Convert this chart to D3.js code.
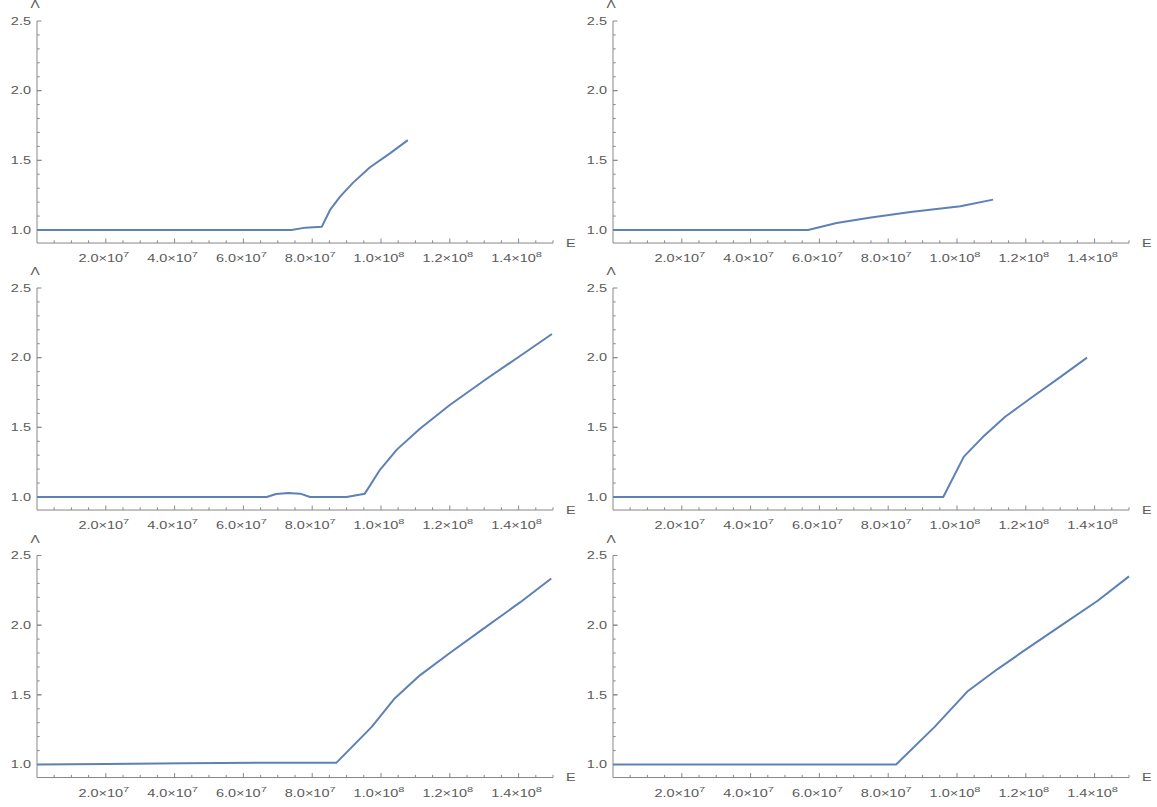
<!DOCTYPE html>
<html>
<head>
<meta charset="utf-8">
<script src="https://cdn.jsdelivr.net/npm/d3@7"></script>
<style>
  body { margin: 0; background: #fff; }
  #svg-container { width: 1157px; height: 807px; }
  .tick-label { font-family: "Liberation Sans", Arial, sans-serif; fill: #5a5a5a; }
</style>
</head>
<body>
<div id="svg-container"></div>
<script>
////////////////////////////////////////////////////////////////////
////////////////////////////  Data  ////////////////////////////////
// E values and Λ values for the six panels
const e1 = [0, 7.4e7, 7.8e7, 8.28e7, 8.52e7, 8.81e7, 9.19e7, 9.68e7, 1.026e8, 1.078e8];
const l1 = [1.0, 1.0, 1.017, 1.024, 1.144, 1.24, 1.34, 1.45, 1.55, 1.645];

const e2 = [0, 5.67e7, 6.5e7, 7.5e7, 8.65e7, 1.01e8, 1.105e8];
const l2 = [1.0, 1.0, 1.05, 1.09, 1.13, 1.17, 1.218];

const e3 = [0, 6.68e7, 6.95e7, 7.3e7, 7.65e7, 7.94e7, 9.0e7, 9.53e7, 9.97e7, 1.046e8, 1.113e8, 1.2e8, 1.302e8, 1.4e8, 1.497e8];
const l3 = [1.0, 1.0, 1.022, 1.028, 1.024, 1.0, 1.0, 1.024, 1.195, 1.34, 1.49, 1.66, 1.84, 2.005, 2.17];

const e4 = [0, 9.6e7, 1.02e8, 1.075e8, 1.14e8, 1.226e8, 1.3e8, 1.378e8];
const l4 = [1.0, 1.0, 1.29, 1.43, 1.576, 1.73, 1.86, 2.0];

const e5 = [0, 2e7, 4.3e7, 6.5e7, 8.7e7, 9.73e7, 1.038e8, 1.113e8, 1.2e8, 1.297e8, 1.405e8, 1.495e8];
const l5 = [1.0, 1.003, 1.009, 1.012, 1.012, 1.27, 1.47, 1.64, 1.80, 1.973, 2.165, 2.335];

const e6 = [0, 8.23e7, 9.35e7, 1.032e8, 1.118e8, 1.194e8, 1.301e8, 1.409e8, 1.5e8];
const l6 = [1.0, 1.0, 1.27, 1.528, 1.685, 1.815, 1.995, 2.175, 2.35];

const seriesE = [e1, e2, e3, e4, e5, e6];
const seriesL = [l1, l2, l3, l4, l5, l6];

// ticks
const xMajor = [2e7, 4e7, 6e7, 8e7, 1e8, 1.2e8, 1.4e8];
const xMinor = d3.range(5e6, 1.5e8 + 1, 5e6);
const yMajor = [1.0, 1.5, 2.0, 2.5];
const yMinor = d3.range(1.1, 2.45, 0.1);

////////////////////////////////////////////////////////////////////
////////////////////////////  Init  ////////////////////////////////
const width = 1157;
const height = 807;
const svg = d3.select("#svg-container").append("svg")
  .attr("width", width).attr("height", height);

const colX = [37, 613];          // y-axis position of each column
const rowTop = [21, 288, 555.5]; // y of Λ = 2.5 in each row
const plotW = 516;
const plotH = 209;               // 1.0 .. 2.5
const yBottom = 0.9065;          // where the x-axis sits

const lineColor = "#5E81B5";
const axisColor = "#888";
const stretch = 1.38;            // labels in the picture are wide

const x = d3.scaleLinear().domain([0, 1.5e8]).range([0, plotW]);
const y = d3.scaleLinear().domain([1.0, 2.5]).range([plotH, 0]);
const axisY = y(yBottom);

const line = d3.line()
  .x((d) => x(d[0]))
  .y((d) => y(d[1]));

const supLabel = (v) => {
  const exp = Math.floor(Math.log10(v) + 1e-9);
  return { mant: (v / Math.pow(10, exp)).toFixed(1), exp: exp };
};

seriesE.forEach((E, i) => {
  const col = i % 2;
  const row = Math.floor(i / 2);
  const g = svg.append("g")
    .attr("transform", `translate(${colX[col]}, ${rowTop[row]})`);

  // axis lines
  g.append("line")
    .attr("x1", 0).attr("x2", x(1.5e8))
    .attr("y1", axisY).attr("y2", axisY)
    .attr("stroke", axisColor).attr("stroke-width", 1);
  g.append("line")
    .attr("x1", 0).attr("x2", 0)
    .attr("y1", axisY).attr("y2", y(2.5))
    .attr("stroke", axisColor).attr("stroke-width", 1);

  // x ticks (inward)
  g.selectAll(".xminor")
    .data(xMinor)
    .enter()
    .append("line")
    .attr("x1", (d) => x(d)).attr("x2", (d) => x(d))
    .attr("y1", axisY).attr("y2", (d) => axisY - (xMajor.some((m) => Math.abs(m - d) < 1) ? 4.5 : 2.7))
    .attr("stroke", axisColor).attr("stroke-width", 1);

  // y ticks (inward)
  g.selectAll(".yminor")
    .data(yMinor.concat(yMajor))
    .enter()
    .append("line")
    .attr("x1", 0).attr("x2", (d) => (yMajor.some((m) => Math.abs(m - d) < 1e-6) ? 4.5 : 2.7))
    .attr("y1", (d) => y(d)).attr("y2", (d) => y(d))
    .attr("stroke", axisColor).attr("stroke-width", 1);

  // x tick labels: m.0×10^n
  const xl = g.selectAll(".xlab")
    .data(xMajor)
    .enter()
    .append("text")
    .attr("class", "tick-label")
    .attr("transform", (d) => `translate(${x(d) - 2}, ${axisY + 19}) scale(${stretch},1)`)
    .attr("text-anchor", "middle")
    .style("font-size", "10.5px");
  xl.append("tspan").text((d) => supLabel(d).mant + "\u00d710");
  xl.append("tspan")
    .attr("dy", -5)
    .style("font-size", "8px")
    .text((d) => supLabel(d).exp);

  // y tick labels
  g.selectAll(".ylab")
    .data(yMajor)
    .enter()
    .append("text")
    .attr("class", "tick-label")
    .attr("transform", (d) => `translate(-6, ${y(d) + 3.7}) scale(${stretch},1)`)
    .attr("text-anchor", "end")
    .style("font-size", "10.5px")
    .text((d) => d.toFixed(1));

  // axis names
  g.append("text")
    .attr("class", "tick-label")
    .attr("transform", `translate(-2, -13) scale(${stretch},1)`)
    .attr("text-anchor", "middle")
    .style("font-size", "10px")
    .text("\u039b");
  g.append("text")
    .attr("class", "tick-label")
    .attr("transform", `translate(${x(1.5e8) + 13}, ${axisY + 3.7}) scale(${stretch},1)`)
    .style("font-size", "10.5px")
    .text("E");

  // curve
  const pts = E.map((e, j) => [e, seriesL[i][j]]);
  g.append("path")
    .datum(pts)
    .attr("d", line)
    .attr("fill", "none")
    .attr("stroke", lineColor)
    .attr("stroke-width", 2)
    .attr("stroke-linejoin", "round");
});
</script>
</body>
</html>
